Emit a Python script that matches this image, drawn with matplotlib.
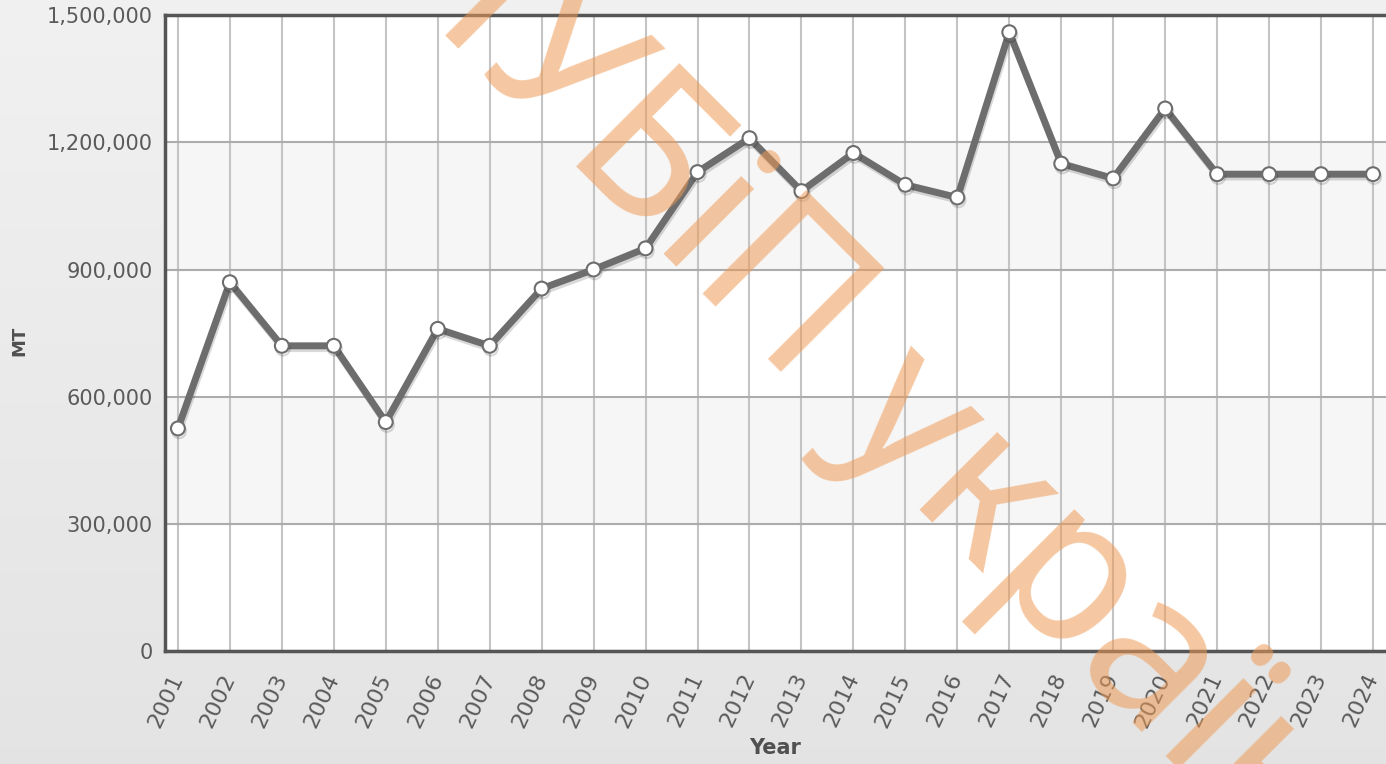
# Річний обсяг (MT) за 2001-2024 роки, лінійний графік.
import numpy as np
import matplotlib.pyplot as plt
import matplotlib.patheffects as pe

years = list(range(2001, 2025))
values = [525000, 870000, 720000, 720000, 540000, 760000, 720000, 855000,
          900000, 950000, 1130000, 1210000, 1085000, 1175000, 1100000, 1070000,
          1460000, 1150000, 1115000, 1280000, 1125000, 1125000, 1125000, 1125000]
y_ticks = [0, 300000, 600000, 900000, 1200000, 1500000]
y_labels = [f"{v:,}" for v in y_ticks]
watermark = "НУБіП україни"

plt.rcParams['font.family'] = ['DejaVu Sans']

fig = plt.figure(figsize=(13.86, 7.64), dpi=100)

# фон з легким градієнтом
bg = fig.add_axes([0, 0, 1, 1], zorder=-1)
grad = np.linspace(0.945, 0.893, 256).reshape(-1, 1)
bg.imshow(np.dstack([grad, grad, grad]), aspect='auto', extent=[0, 1, 0, 1])
bg.set_axis_off()

ax = fig.add_axes([0.119, 0.148, 0.881, 0.832])
ax.set_xlim(2000.75, 2024.25)
ax.set_ylim(0, 1500000)

# смуги
for i in range(len(y_ticks) - 1):
    ax.axhspan(y_ticks[i], y_ticks[i + 1], color='white' if i % 2 == 0 else '#f6f6f6', zorder=0)

ax.set_xticks(years)
ax.set_xticklabels([str(y) for y in years], rotation=65, ha='right', va='center',
                   rotation_mode='anchor', fontsize=16, color='#5a5a5a')
ax.set_yticks(y_ticks)
ax.set_yticklabels(y_labels, fontsize=15, color='#5a5a5a')
ax.tick_params(axis='both', length=0)
ax.tick_params(axis='x', pad=17)
ax.tick_params(axis='y', pad=9)

ax.grid(axis='x', color='#c4c4c4', linewidth=1.5, zorder=1)
ax.grid(axis='y', color='#acacac', linewidth=1.5, zorder=1)
ax.set_axisbelow(True)

for side in ['left', 'bottom', 'top']:
    ax.spines[side].set_color('#555555')
    ax.spines[side].set_linewidth(2.5)
ax.spines['right'].set_visible(False)

ax.plot(years, values, color='#6d6d6d', linewidth=5, marker='o', markersize=10,
        markerfacecolor='white', markeredgecolor='#6d6d6d', markeredgewidth=1.5, zorder=3,
        path_effects=[pe.SimpleLineShadow(offset=(0.8, -2), alpha=0.15), pe.Normal()])

ax.set_xlabel('Year', fontsize=15, fontweight='bold', color='#505050')
ax.xaxis.set_label_coords(0.5, -0.137)
ax.set_ylabel('MT', fontsize=13, fontweight='bold', color='#505050')
ax.yaxis.set_label_coords(-0.112, 0.487)

# водяний знак
fig.text(905 / 1386, 1 - 420 / 764, watermark, fontsize=148, family=['Noto Sans', 'DejaVu Sans'],
         color='#ee9a55', alpha=0.55, rotation=-45, rotation_mode='anchor',
         ha='center', va='center', zorder=10)

fig.savefig('out.png', dpi=100)
